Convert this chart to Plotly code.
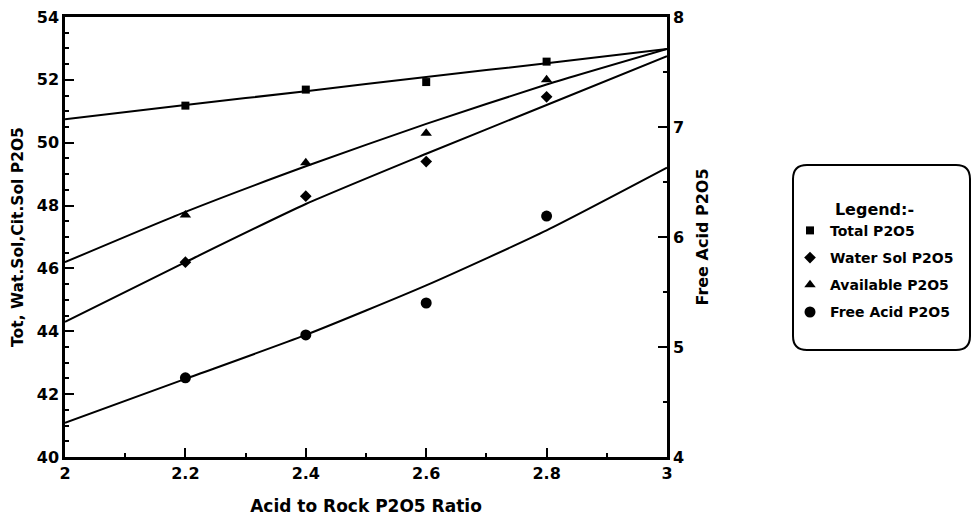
import plotly.graph_objects as go

# ---- data ----
ratio = [2.2, 2.4, 2.6, 2.8]
total_p2o5 = [51.18, 51.69, 51.93, 52.58]
water_sol_p2o5 = [46.2, 48.3, 49.4, 51.46]
available_p2o5 = [47.7, 49.36, 50.3, 52.0]
free_acid_p2o5 = [4.72, 5.11, 5.40, 6.19]

# fitted curves as drawn in the reference
fit_ratio = [2.0, 2.2, 2.4, 2.6, 2.8, 3.0]
total_fit = [50.75, 51.2, 51.64, 52.09, 52.53, 52.98]
water_fit = [44.3, 46.2, 48.05, 49.65, 51.2, 52.75]
available_fit = [46.2, 47.8, 49.25, 50.6, 51.85, 52.98]
free_acid_fit = [4.31, 4.71, 5.11, 5.56, 6.06, 6.63]

x_ticks = [2, 2.2, 2.4, 2.6, 2.8, 3]
x_tick_text = ["2", "2.2", "2.4", "2.6", "2.8", "3"]
left_ticks = [40, 42, 44, 46, 48, 50, 52, 54]
right_ticks = [4, 5, 6, 7, 8]

FONT = "DejaVu Sans, Liberation Sans, sans-serif"
INK = "#000000"

fig = go.Figure()

series = [
    ("Total P2O5", total_p2o5, total_fit, "square", 8, "y"),
    ("Water Sol P2O5", water_sol_p2o5, water_fit, "diamond", 9, "y"),
    ("Available P2O5", available_p2o5, available_fit, "triangle-up", 10, "y"),
    ("Free Acid P2O5", free_acid_p2o5, free_acid_fit, "circle", 11, "y2"),
]

for i, (name, vals, fit, sym, size, yax) in enumerate(series):
    fig.add_trace(go.Scatter(
        x=fit_ratio, y=fit, mode="lines", yaxis=yax,
        line=dict(color=INK, width=2, shape="spline", smoothing=0.6),
        showlegend=False, hoverinfo="skip",
    ))
    fig.add_trace(go.Scatter(
        x=ratio, y=vals, mode="markers", name=name, yaxis=yax,
        legendgroup=f"g{i}",
        marker=dict(symbol=sym, size=size, color=INK, line=dict(width=0)),
    ))

# plot area geometry (page body adds an 8px offset)
PL, PT, PW, PH = 57, 9, 602, 440

# rounded legend frame (paper coordinates)
x0, x1 = (793 - 65) / PW, (970 - 65) / PW
y0, y1 = (457 - 350) / PH, (457 - 165) / PH
rx, ry = 14 / PW, 14 / PH
path = (f"M {x0+rx},{y1} L {x1-rx},{y1} Q {x1},{y1} {x1},{y1-ry} "
        f"L {x1},{y0+ry} Q {x1},{y0} {x1-rx},{y0} "
        f"L {x0+rx},{y0} Q {x0},{y0} {x0},{y0+ry} "
        f"L {x0},{y1-ry} Q {x0},{y1} {x0+rx},{y1} Z")
fig.add_shape(type="path", path=path, xref="paper", yref="paper",
              line=dict(color=INK, width=2), fillcolor="white", layer="below")

axis_common = dict(
    showline=True, linecolor=INK, linewidth=2.5,
    ticks="inside", tickcolor=INK, tickwidth=2, ticklen=9,
    showgrid=False, zeroline=False, automargin=False,
    ticklabeloverflow="allow",
    tickfont=dict(family=FONT, size=16, color=INK, weight="bold"),
)

fig.update_layout(
    width=979, height=527,
    paper_bgcolor="white", plot_bgcolor="white",
    margin=dict(l=PL, r=979 - PL - PW, t=PT, b=527 - PT - PH),
    font=dict(family=FONT, color=INK),
    xaxis=dict(
        **axis_common, range=[2, 3], tickvals=x_ticks, ticktext=x_tick_text,
        mirror=True,
        minor=dict(ticks="inside", dtick=0.1, ticklen=4, tickcolor=INK, tickwidth=1.5),
        title=dict(text="Acid to Rock P2O5 Ratio", standoff=19,
                   font=dict(family=FONT, size=17, color=INK, weight="bold")),
    ),
    yaxis=dict(
        **axis_common, range=[40, 54], tickvals=left_ticks,
        minor=dict(ticks="inside", dtick=0.5, ticklen=4, tickcolor=INK, tickwidth=1.5),
        title=dict(text="Tot, Wat.Sol,Cit.Sol P2O5", standoff=10,
                   font=dict(family=FONT, size=15.5, color=INK, weight="bold")),
    ),
    yaxis2=dict(
        **axis_common, range=[4, 8], tickvals=right_ticks, overlaying="y", side="right",
        minor=dict(ticks="inside", dtick=0.5, ticklen=4, tickcolor=INK, tickwidth=1.5),
        title=dict(text="Free Acid P2O5", standoff=14,
                   font=dict(family=FONT, size=16, color=INK, weight="bold")),
    ),
    legend=dict(
        x=(790 - 65) / PW, xanchor="left",
        y=(457 - 194) / PH, yanchor="top",
        bgcolor="rgba(0,0,0,0)", borderwidth=0,
        traceorder="grouped", tracegroupgap=6,
        font=dict(family=FONT, size=14, color=INK, weight="bold"),
        title=dict(text="Legend:-", side="top center",
                   font=dict(family=FONT, size=16, color=INK, weight="bold")),
        itemwidth=30,
    ),
    showlegend=True,
)

fig.write_html("out.html")
